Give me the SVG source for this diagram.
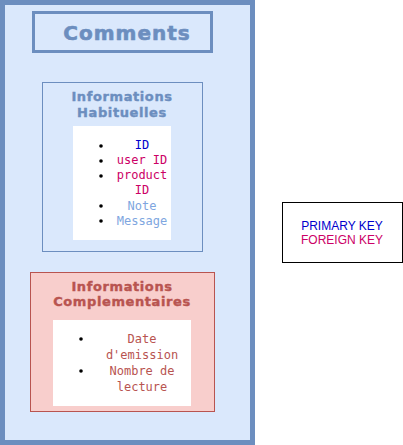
<svg xmlns="http://www.w3.org/2000/svg" width="403" height="445" viewBox="0 0 403 445">
<style>
.title{font-family:"DejaVu Sans",sans-serif;font-weight:bold;text-anchor:middle}
.mono{font-family:"DejaVu Sans Mono","Liberation Mono",monospace;font-size:12px;text-anchor:middle}
.pk{fill:#0000CC}.fk{fill:#CC0066}.nt{fill:#7EA6E0}.red{fill:#B85450}
.legend{font-family:"Liberation Sans",Arial,sans-serif;font-size:12px;text-anchor:middle}
</style>
<rect width="403" height="445" fill="#ffffff"/>
<g id="comments">
<rect x="2.5" y="2.5" width="250" height="440" fill="#dae8fc" stroke="#6c8ebf" stroke-width="5"/>
<rect x="33.5" y="12.5" width="178" height="39" fill="none" stroke="#6c8ebf" stroke-width="3"/>
<text class="title" x="127" y="40" font-size="20" fill="#6c8ebf" stroke="#6c8ebf" stroke-width="0.6" letter-spacing="1">Comments</text>
</g>
<g id="habituelles">
<rect x="42.5" y="82.5" width="160" height="169" fill="#dae8fc" stroke="#6c8ebf"/>
<text class="title" x="122" y="101" font-size="13" fill="#6c8ebf" stroke="#6c8ebf" stroke-width="0.4" letter-spacing="0.6">Informations</text>
<text class="title" x="122" y="117" font-size="13" fill="#6c8ebf" stroke="#6c8ebf" stroke-width="0.4" letter-spacing="0.6">Habituelles</text>
<rect x="73" y="126" width="98" height="114" fill="#ffffff"/>
<g fill="#000"><circle cx="101" cy="146" r="1.8"/><circle cx="101" cy="161" r="1.8"/><circle cx="101" cy="176" r="1.8"/><circle cx="101" cy="206" r="1.8"/><circle cx="101" cy="221" r="1.8"/></g>
<text class="mono pk" x="142" y="149">ID</text>
<text class="mono fk" x="142" y="164">user ID</text>
<text class="mono fk" x="142" y="179">product</text>
<text class="mono fk" x="142" y="194">ID</text>
<text class="mono nt" x="142" y="210">Note</text>
<text class="mono nt" x="142" y="225">Message</text>
</g>
<g id="complementaires">
<rect x="30.5" y="272.5" width="184" height="139" fill="#f8cecc" stroke="#b85450"/>
<text class="title" x="122" y="291" font-size="13" fill="#b85450" stroke="#b85450" stroke-width="0.4" letter-spacing="0.6">Informations</text>
<text class="title" x="122" y="306" font-size="13" fill="#b85450" stroke="#b85450" stroke-width="0.4" letter-spacing="0.6">Complementaires</text>
<rect x="53" y="320" width="138" height="86" fill="#ffffff"/>
<g fill="#000"><circle cx="81" cy="339" r="1.8"/><circle cx="81" cy="371" r="1.8"/></g>
<text class="mono red" x="142" y="343">Date</text>
<text class="mono red" x="142" y="359">d'emission</text>
<text class="mono red" x="142" y="375">Nombre de</text>
<text class="mono red" x="142" y="391">lecture</text>
</g>
<g id="legend">
<rect x="282.5" y="202.5" width="120" height="60" fill="#ffffff" stroke="#000000"/>
<text class="legend" x="342" y="230" fill="#0000CC">PRIMARY KEY</text>
<text class="legend" x="342" y="244" fill="#CC0066">FOREIGN KEY</text>
</g>
<g id="connectors"></g>
</svg>
